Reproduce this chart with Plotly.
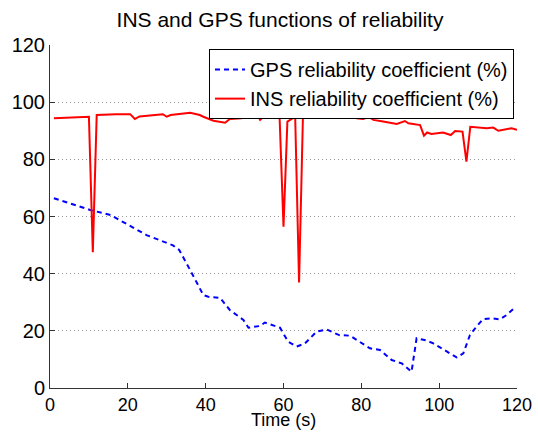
import plotly.graph_objects as go

# Time stamps (s) and reliability coefficients (%)
gps_t = [1, 10.3, 15.6, 19.8, 24.8, 31.6, 33.2, 36, 39.4, 40.7,
         43.7, 46.2, 48.8, 49.7, 51, 54, 55.2, 59.1, 61.2, 63.4,
         65.5, 68.5, 71.1, 74.3, 77.1, 79.7, 82.2, 84.8, 87.8, 90.4,
         92.9, 94.2, 96.8, 98.5, 101.9, 104.5, 106.2, 107.9, 109.6, 111.3,
         113.5, 115.6, 117.3, 119.5]
gps_v = [66.4, 62.3, 60.5, 57.3, 53.5, 49.9, 48.3, 41.3, 32.5, 31.9,
         31.5, 27.3, 24.9, 23.8, 21.1, 21.7, 22.9, 21.1, 16.2, 14.5,
         15.6, 19.7, 20.5, 18.5, 18.3, 15.9, 13.9, 13.3, 9.8, 8.6,
         5.7, 17.4, 16.6, 15.6, 12.7, 10.7, 12.1, 18.5, 21.5, 24.1,
         24.4, 24.0, 25.5, 28.2]

ins_t = [1, 10, 11, 12, 17, 20.6, 21.8, 23, 29, 30,
         31, 36, 38.5, 39.4, 42, 45, 46.2, 49.2, 51.4, 52.9,
         54, 54.8, 59, 60, 61, 63, 64, 65, 68.9, 71.9,
         74.1, 77.1, 78.8, 80.5, 81.8, 83.1, 85.6, 89.1, 91.2, 92.1,
         95.1, 96.1, 96.9, 98, 101, 103, 104.1, 106, 107, 108,
         112.2, 113.9, 115.2, 117.3, 118.6, 120]
ins_v = [94.4, 94.9, 47.5, 95.5, 95.8, 95.8, 94.1, 95.0, 95.8, 94.9,
         95.5, 96.3, 95.5, 94.9, 93.5, 92.8, 94.1, 94.4, 95.3, 96.5,
         93.8, 94.9, 94.6, 56.4, 93.2, 94.9, 36.9, 95.3, 95.9, 94.7,
         95.5, 95.2, 94.4, 94.1, 94.9, 93.8, 93.2, 92.4, 93.4, 92.6,
         92.0, 88.3, 89.4, 88.9, 89.4, 88.5, 89.9, 89.7, 79.2, 91.4,
         90.9, 91.1, 90.0, 90.6, 90.9, 90.3]

x_ticks = [0, 20, 40, 60, 80, 100, 120]
y_ticks = [0, 20, 40, 60, 80, 100, 120]

FONT = "Liberation Sans, Arial, Helvetica, sans-serif"

fig = go.Figure()
fig.add_trace(go.Scatter(
    x=gps_t, y=gps_v, mode="lines", name="GPS reliability coefficient (%)",
    line=dict(color="rgb(0,0,255)", width=2, dash="5px,4px")))
fig.add_trace(go.Scatter(
    x=ins_t, y=ins_v, mode="lines", name="INS reliability coefficient (%)",
    line=dict(color="rgb(255,0,0)", width=2)))

fig.update_layout(
    width=538, height=432,
    margin=dict(l=50, r=21, t=45, b=44),
    paper_bgcolor="white", plot_bgcolor="white",
    font=dict(family=FONT, color="black", size=20),
    title=dict(text="INS and GPS functions of reliability",
               x=280 / 538, xref="container", xanchor="center",
               y=1 - 20 / 432, yref="container", yanchor="middle",
               font=dict(size=21, color="black")),
    showlegend=True,
    legend=dict(x=0.9936, y=0.988, xanchor="right", yanchor="top",
                bgcolor="white", bordercolor="black", borderwidth=1,
                font=dict(size=20), itemwidth=30,
                tracegroupgap=0),
    xaxis=dict(range=[0, 120], tickvals=x_ticks, ticks="inside", ticklen=5,
               tickcolor="#333", showline=True, linecolor="#333", linewidth=1,
               showgrid=False, zeroline=False, automargin=False,
               tickfont=dict(size=18)),
    yaxis=dict(range=[0, 120], tickvals=y_ticks, ticks="inside", ticklen=5,
               tickcolor="#333", showline=True, linecolor="#333", linewidth=1,
               showgrid=True, gridcolor="#999", griddash="1px,3px", gridwidth=1,
               zeroline=False, automargin=False),
    annotations=[dict(text="Time (s)", xref="paper", yref="paper",
                      x=0.5, y=-44 / 343, xanchor="center", yanchor="bottom",
                      showarrow=False, font=dict(size=18, color="black"))],
)

fig.write_html("out.html")
